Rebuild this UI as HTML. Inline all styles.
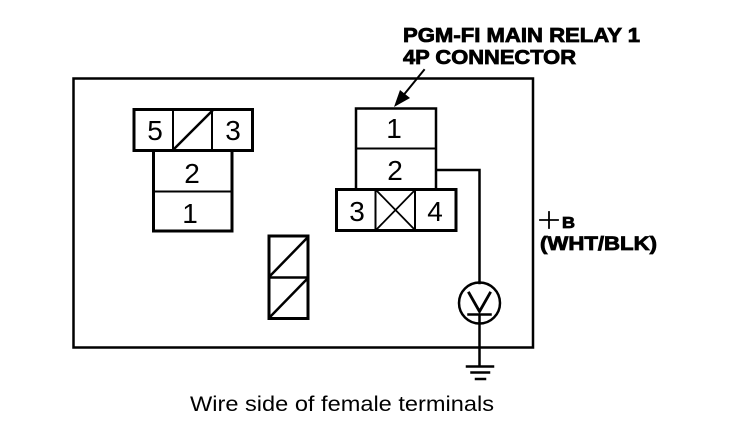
<!DOCTYPE html>
<html><head><meta charset="utf-8">
<style>html,body{margin:0;padding:0;background:#fff}svg{display:block}
text{font-family:"Liberation Sans",sans-serif;fill:#000}
.n{font-size:28px;text-anchor:middle}
.b{font-size:20px;font-weight:bold;stroke:#000;stroke-width:.8px}
</style></head><body>
<svg width="752" height="436" viewBox="0 0 752 436" xmlns="http://www.w3.org/2000/svg">
<g fill="none" stroke="#000" stroke-linecap="square">
<!-- outer -->
<path d="M73.500 78.500H533V347.500H73.500Z" stroke-width="2.500"/>
<!-- left connector -->
<rect x="134" y="109.500" width="118.500" height="41" stroke-width="3"/>
<path d="M173 110V150M212 110V150" stroke-width="2"/>
<path d="M174 149L212 111" stroke-width="2.500"/>
<path d="M153.500 151V231H232V151" stroke-width="3"/>
<path d="M154 191.500H232" stroke-width="2"/>
<!-- small connector -->
<rect x="269" y="236" width="39" height="82.500" stroke-width="3"/>
<path d="M269 277.500H308" stroke-width="2.500"/>
<path d="M270 276L307 238M270 317L307 279" stroke-width="2.500"/>
<!-- right connector -->
<path d="M356 189V108.500H436V189" stroke-width="2.500"/>
<path d="M356 148.500H436" stroke-width="2"/>
<rect x="336.500" y="189.500" width="119.500" height="41" stroke-width="3"/>
<path d="M375.500 190V230M415 190V230" stroke-width="2"/>
<path d="M376 190L415 230M415 190L376 230" stroke-width="1.800"/>
<!-- wire -->
<path d="M437 170H479.500V283" stroke-width="2.500"/>
<circle cx="479.500" cy="303" r="20.500" stroke-width="2.500"/>
<path d="M469 293L479.500 311.500L490 293" stroke-width="2.800"/>
<path d="M468.500 314.500H490.500" stroke-width="2.500"/>
<path d="M479.500 315V366" stroke-width="2.500"/>
<path d="M467 366.500H493" stroke-width="2.500"/>
<path d="M471.500 372.500H489" stroke-width="2.500"/>
<path d="M476 379H485" stroke-width="2.500"/>
<!-- leader -->
<path d="M424 70L402 97" stroke-width="2"/>
<!-- +B plus -->
<path d="M540 220H558M549 212V228" stroke-width="1.800"/>
</g>
<path d="M394 107L400 90L410 98Z" fill="#000"/>
<text class="n" x="155" y="140">5</text>
<text class="n" x="233" y="140">3</text>
<text class="n" x="192" y="183">2</text>
<text class="n" x="190" y="223">1</text>
<text class="n" x="394" y="138">1</text>
<text class="n" x="395" y="180">2</text>
<text class="n" x="357" y="221">3</text>
<text class="n" x="435" y="221">4</text>
<text class="b" x="403" y="42" textLength="237" lengthAdjust="spacingAndGlyphs">PGM-FI MAIN RELAY 1</text>
<text class="b" x="403" y="64" textLength="173" lengthAdjust="spacingAndGlyphs">4P CONNECTOR</text>
<text class="b" x="562" y="228" style="font-size:15.500px" textLength="13" lengthAdjust="spacingAndGlyphs">B</text>
<text class="b" x="540" y="250" style="font-size:19px" textLength="117" lengthAdjust="spacingAndGlyphs">(WHT/BLK)</text>
<text x="190" y="411" style="font-size:21.500px" textLength="304" lengthAdjust="spacingAndGlyphs">Wire side of female terminals</text>
</svg>
</body></html>
